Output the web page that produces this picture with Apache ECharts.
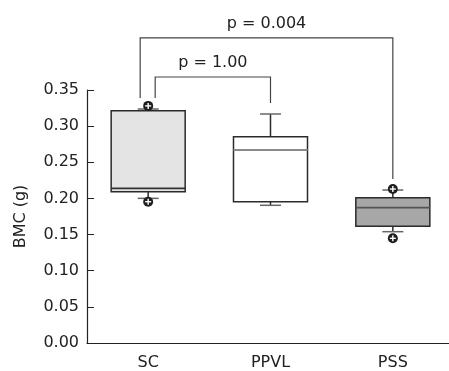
<!DOCTYPE html>
<html>
<head>
<meta charset="utf-8">
<script src="https://cdn.jsdelivr.net/npm/echarts@6/dist/echarts.min.js"></script>
<style>
  html, body { margin: 0; padding: 0; background: #fff; }
  #main { width: 449px; height: 371px; }
</style>
</head>
<body>
<div id="main"></div>
<script>
// groups and box statistics (BMC in g)
var categories = ['SC', 'PPVL', 'PSS'];
var whiskerLow = [0.2001, 0.1905, 0.1540];
var quartile1 = [0.2093, 0.1955, 0.1614];
var median = [0.2140, 0.2670, 0.1872];
var quartile3 = [0.3214, 0.2854, 0.2010];
var whiskerHigh = [0.3237, 0.3168, 0.2116];
// outliers: [group index, value]
var outliers = [[0, 0.3280], [0, 0.1955], [2, 0.2130], [2, 0.1448]];
// y axis ticks
var yTicks = [0, 0.05, 0.10, 0.15, 0.20, 0.25, 0.30, 0.35];
// significance brackets: [from, to, bracket top, from end, to end]
var bracketFrom = [0, 0];
var bracketTo = [1, 2];
var bracketTop = [0.368, 0.422];
var bracketFromEnd = [0.339, 0.339];
var bracketToEnd = [0.332, 0.227];
var pLabels = ['p = 1.00', 'p = 0.004'];

var FONT = 'DejaVu Sans';
var boxFill = ['#e4e4e4', '#ffffff', '#a7a7a7'];
var medianColor = ['#333', '#8a8a8a', '#555'];
var bracketOffset = [[7, 0], [-8, 0]];

var chart = echarts.init(document.getElementById('main'));

var boxData = categories.map(function (c, i) {
  return [i, whiskerLow[i], quartile1[i], median[i], quartile3[i], whiskerHigh[i]];
});
var bracketData = bracketFrom.map(function (f, i) {
  return [f, bracketTo[i], bracketTop[i], bracketFromEnd[i], bracketToEnd[i], i];
});

function renderBox(params, api) {
  var i = api.value(0);
  var bw = api.size([1, 0])[0] * 0.605;
  var capW = 21;
  var lo = api.coord([i, api.value(1)]);
  var b1 = api.coord([i, api.value(2)]);
  var md = api.coord([i, api.value(3)]);
  var b3 = api.coord([i, api.value(4)]);
  var hi = api.coord([i, api.value(5)]);
  var x = lo[0];
  var dark = { stroke: '#2b2b2b', lineWidth: 1.5 };
  var cap = { stroke: '#666', lineWidth: 1.5 };
  return {
    type: 'group',
    children: [
      { type: 'line', shape: { x1: x, y1: b3[1], x2: x, y2: hi[1] }, style: dark },
      { type: 'line', shape: { x1: x, y1: lo[1], x2: x, y2: b1[1] }, style: dark },
      { type: 'line', shape: { x1: x - capW / 2, y1: hi[1], x2: x + capW / 2, y2: hi[1] }, style: cap },
      { type: 'line', shape: { x1: x - capW / 2, y1: lo[1], x2: x + capW / 2, y2: lo[1] }, style: cap },
      { type: 'rect', shape: { x: x - bw / 2, y: b3[1], width: bw, height: b1[1] - b3[1] },
        style: { fill: boxFill[i], stroke: '#2b2b2b', lineWidth: 1.5 } },
      { type: 'line', shape: { x1: x - bw / 2, y1: md[1], x2: x + bw / 2, y2: md[1] },
        style: { stroke: medianColor[i], lineWidth: 1.8 } }
    ]
  };
}

function renderOutlier(params, api) {
  var p = api.coord([api.value(0), api.value(1)]);
  return {
    type: 'group',
    children: [
      { type: 'circle', shape: { cx: p[0], cy: p[1], r: 5 }, style: { fill: '#1e1e1e' } },
      { type: 'line', shape: { x1: p[0] - 3, y1: p[1], x2: p[0] + 3, y2: p[1] }, style: { stroke: '#fff', lineWidth: 1.4 } },
      { type: 'line', shape: { x1: p[0], y1: p[1] - 3, x2: p[0], y2: p[1] + 3 }, style: { stroke: '#fff', lineWidth: 1.4 } }
    ]
  };
}

function renderBracket(params, api) {
  var k = api.value(5);
  var off = bracketOffset[k];
  var a = api.coord([api.value(0), api.value(3)]);
  var top = api.coord([api.value(0), api.value(2)]);
  var b = api.coord([api.value(1), api.value(4)]);
  var xa = a[0] + off[0];
  var xb = b[0] + off[1];
  return {
    type: 'group',
    children: [
      { type: 'polyline', shape: { points: [[xa, a[1]], [xa, top[1]], [xb, top[1]], [xb, b[1]]] },
        style: { stroke: '#444', lineWidth: 1.2, fill: null } },
      { type: 'text', style: { text: pLabels[k], x: (xa + xb) / 2, y: top[1] - 6,
          align: 'center', verticalAlign: 'bottom', fontSize: 16, fontFamily: FONT, fill: '#222' } }
    ]
  };
}

chart.setOption({
  animation: false,
  grid: { left: 87, top: 90, height: 253, width: 367, outerBoundsMode: 'none' },
  xAxis: {
    type: 'category',
    data: categories,
    axisLine: { lineStyle: { color: '#222', width: 1.2 } },
    axisTick: { alignWithLabel: true, inside: true, length: 8, lineStyle: { color: '#222' } },
    axisLabel: { margin: 12, fontSize: 16, fontFamily: FONT, color: '#222' },
    splitLine: { show: false }
  },
  yAxis: {
    type: 'value',
    min: yTicks[0],
    max: yTicks[yTicks.length - 1],
    interval: 0.05,
    name: 'BMC (g)',
    nameLocation: 'middle',
    nameGap: 58,
    nameTextStyle: { fontSize: 16, fontFamily: FONT, color: '#222' },
    axisLine: { show: true, lineStyle: { color: '#222', width: 1.2 } },
    axisTick: { show: true, inside: true, length: 7, lineStyle: { color: '#222' } },
    axisLabel: { margin: 8, fontSize: 16, fontFamily: FONT, color: '#222',
      formatter: function (v) { return v.toFixed(2); } },
    splitLine: { show: false }
  },
  series: [
    { type: 'custom', renderItem: renderBracket, data: bracketData, clip: false, z: 1,
      encode: { x: [0, 1], y: [2, 3, 4] } },
    { type: 'custom', renderItem: renderBox, data: boxData, z: 2,
      encode: { x: 0, y: [1, 2, 3, 4, 5] } },
    { type: 'custom', renderItem: renderOutlier, data: outliers, z: 3,
      encode: { x: 0, y: 1 } }
  ]
});
</script>
</body>
</html>
